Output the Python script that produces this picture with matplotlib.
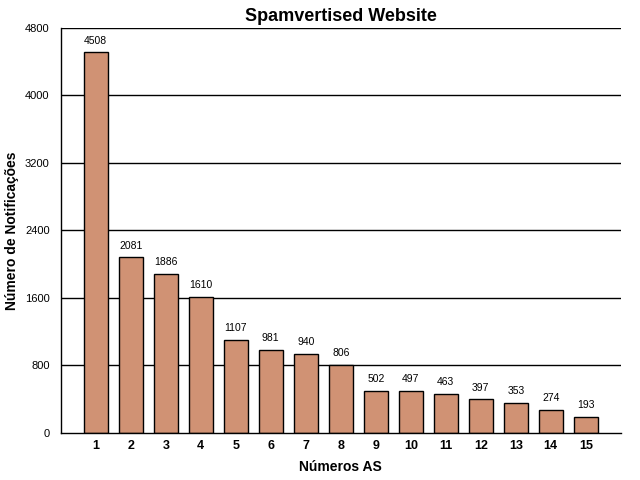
import matplotlib.pyplot as plt

as_numbers = list(range(1, 16))
notifications = [4508, 2081, 1886, 1610, 1107, 981, 940, 806, 502, 497, 463, 397, 353, 274, 193]
y_ticks = [0, 800, 1600, 2400, 3200, 4000, 4800]

plt.rcParams['font.family'] = ['Liberation Sans', 'DejaVu Sans']

fig = plt.figure(figsize=(6.4, 4.8), dpi=100)
ax = fig.add_axes([0.095, 0.098, 0.875, 0.844])

# horizontal grid lines
for t in y_ticks[1:]:
    ax.axhline(t, color='black', linewidth=1, zorder=1)

bars = ax.bar(as_numbers, notifications, width=0.69, color='#D09274',
              edgecolor='black', linewidth=1, zorder=2)

for x, v in zip(as_numbers, notifications):
    ax.text(x, v + 80, str(v), ha='center', va='bottom', fontsize=7.5)

ax.set_xlim(0, 16)
ax.set_ylim(0, 4800)
ax.set_yticks(y_ticks)
ax.set_xticks(as_numbers)
ax.set_xticklabels([str(n) for n in as_numbers], fontweight='bold', fontsize=9)
ax.tick_params(axis='y', labelsize=8, length=0, pad=8)
ax.tick_params(axis='x', length=0, pad=5)

for s in ['top', 'right']:
    ax.spines[s].set_visible(False)
ax.spines['left'].set_linewidth(1)
ax.spines['bottom'].set_linewidth(1)

ax.set_title('Spamvertised Website', fontsize=13, fontweight='bold', pad=5)
ax.set_xlabel('Números AS', fontsize=10, fontweight='bold', labelpad=6)
ax.set_ylabel('Número de Notificações', fontsize=10, fontweight='bold', labelpad=4)

plt.savefig('out.png', dpi=100)
